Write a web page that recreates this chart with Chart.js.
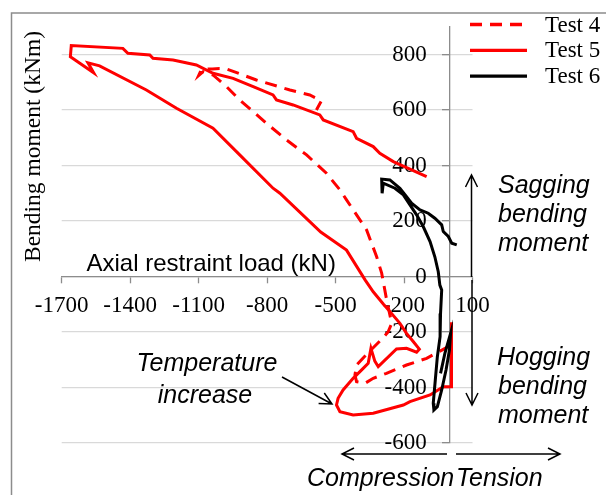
<!DOCTYPE html>
<html><head><meta charset="utf-8">
<script src="https://cdn.jsdelivr.net/npm/chart.js@4"></script>
<style>html,body{margin:0;padding:0;background:#fff}canvas{display:block}</style>
</head><body>
<canvas id="c" width="606" height="495"></canvas>
<script>
// ---- data ----
const xTickValues = [-1700, -1400, -1100, -800, -500, -200, 100];
const yTickValues = [-600, -400, -200, 0, 200, 400, 600, 800];
const seriesNames = ['Test 4', 'Test 5', 'Test 6'];

const test4X = [0, -20, -101, -189, -277, -335, -371, -408, -415, -408, -375, -345, -300, -270, -254, -276, -298, -320, -364, -452, -481, -540, -627, -715, -803, -920, -978, -1037, -1080, -1100, -1088, -1040, -1008, -978, -847, -700, -613, -562, -584];
const test4Y = [-247, -259, -295, -319, -349, -367, -385, -379, -355, -319, -290, -265, -228, -200, -169, -85, 12, 71, 168, 276, 312, 372, 438, 492, 552, 636, 684, 726, 738, 724, 746, 748, 749, 748, 708, 672, 654, 633, 600];

const test5X = [8, 8, -28, -86, -174, -203, -335, -423, -481, -496, -489, -467, -423, -379, -357, -345, -328, -313, -233, -189, -145, -133, -159, -189, -218, -255, -290, -335, -370, -452, -565, -744, -774, -920, -1037, -1197, -1329, -1534, -1585, -1560, -1662, -1658, -1432, -1410, -1314, -1300, -1212, -1110, -1037, -949, -861, -774, -759, -686, -569, -554, -423, -408, -335, -306, -247, -101];
const test5Y = [-165, -397, -397, -427, -451, -463, -493, -499, -487, -463, -439, -409, -367, -331, -313, -259, -305, -325, -261, -259, -273, -262, -235, -205, -169, -133, -100, -55, -13, 95, 160, 300, 318, 438, 534, 606, 672, 759, 770, 734, 792, 832, 822, 804, 798, 786, 780, 762, 732, 714, 684, 654, 636, 618, 582, 564, 522, 498, 468, 444, 414, 360];

const test6X = [31, 9, -6, -28, -35, -65, -94, -130, -167, -189, -218, -262, -298, -296, -291, -240, -203, -174, -145, -116, -86, -65, -50, -43, -35, -40, -42, -54, -63, -72, -69, -54, -35, -16, -1, 4, -21, -40];
const test6Y = [114, 120, 144, 162, 186, 210, 228, 240, 264, 288, 318, 348, 351, 300, 336, 318, 294, 258, 222, 180, 126, 71, 17, -31, -49, -133, -217, -289, -373, -457, -481, -469, -409, -337, -265, -205, -277, -349];

function pts(xs, ys) { return xs.map((x, i) => ({ x: x, y: ys[i] })); }

const SERIF = '"Liberation Serif", "Times New Roman", serif';
const SANS = '"Liberation Sans", Arial, sans-serif';

function arrow(ctx, x1, y1, x2, y2) {
  const ang = Math.atan2(y2 - y1, x2 - x1);
  const L = 12, W = 6;
  ctx.beginPath();
  ctx.moveTo(x1, y1); ctx.lineTo(x2, y2);
  const bx = x2 - L * Math.cos(ang), by = y2 - L * Math.sin(ang);
  const px = -Math.sin(ang) * W, py = Math.cos(ang) * W;
  ctx.moveTo(bx + px, by + py); ctx.lineTo(x2, y2); ctx.lineTo(bx - px, by - py);
  ctx.stroke();
}

const decor = {
  id: 'decor',
  beforeDraw(chart) {
    const ctx = chart.ctx;
    ctx.save();
    ctx.strokeStyle = '#8c8c8c';
    ctx.lineWidth = 1.5;
    ctx.strokeRect(11.5, 13, 700, 600);
    ctx.restore();
  },
  afterDraw(chart) {
    const ctx = chart.ctx;
    ctx.save();
    ctx.fillStyle = '#000';
    // axis titles
    ctx.font = '24px ' + SANS;
    ctx.textAlign = 'left';
    ctx.textBaseline = 'alphabetic';
    ctx.fillText('Axial restraint load (kN)', 86.5, 270.5);
    ctx.save();
    ctx.translate(40, 146.5);
    ctx.rotate(-Math.PI / 2);
    ctx.font = '23.5px ' + SERIF;
    ctx.textAlign = 'center';
    ctx.fillText('Bending moment (kNm)', 0, 0);
    ctx.restore();

    // annotations
    ctx.font = 'italic 25px ' + SANS;
    ctx.textAlign = 'left';
    ctx.fillText('Sagging', 498, 193);
    ctx.fillText('bending', 498, 222);
    ctx.fillText('moment', 498, 251);
    ctx.fillText('Hogging', 497, 365);
    ctx.fillText('bending', 498, 394);
    ctx.fillText('moment', 498, 423);
    ctx.textAlign = 'center';
    ctx.fillText('Temperature', 207, 371);
    ctx.fillText('increase', 205, 403);
    ctx.textAlign = 'left';
    ctx.fillText('Compression', 307, 486);
    ctx.fillText('Tension', 456, 486);

    ctx.strokeStyle = '#000';
    ctx.lineWidth = 1.5;
    arrow(ctx, 471.5, 277, 471.5, 175);
    arrow(ctx, 472, 280, 472, 405);
    arrow(ctx, 282, 377, 332, 404);
    arrow(ctx, 447, 454, 342, 454);
    arrow(ctx, 456, 454, 560, 454);

    // legend
    chart.data.datasets.forEach((ds, i) => {
      const y = 24.5 + 25.8 * i;
      ctx.strokeStyle = ds.borderColor;
      ctx.lineWidth = 3.3;
      ctx.setLineDash(ds.borderDash || []);
      ctx.beginPath();
      ctx.moveTo(470, y); ctx.lineTo(527, y);
      ctx.stroke();
      ctx.setLineDash([]);
      ctx.fillStyle = '#000';
      ctx.font = '23px ' + SERIF;
      ctx.textAlign = 'left';
      ctx.textBaseline = 'middle';
      ctx.fillText(ds.label, 545, y + 1);
    });
    ctx.restore();
  }
};

const lineDs = (label, xs, ys, color, dash, order) => ({
  label: label,
  data: pts(xs, ys),
  showLine: true,
  borderColor: color,
  backgroundColor: color,
  borderWidth: 3,
  borderDash: dash,
  pointRadius: 0,
  pointHoverRadius: 0,
  fill: false,
  tension: 0,
  order: order
});

new Chart(document.getElementById('c'), {
  type: 'scatter',
  data: {
    datasets: [
      lineDs(seriesNames[0], test4X, test4Y, '#ff0000', [12, 8], 3),
      lineDs(seriesNames[1], test5X, test5Y, '#ff0000', [], 2),
      lineDs(seriesNames[2], test6X, test6Y, '#000000', [], 1)
    ]
  },
  options: {
    responsive: false,
    animation: false,
    events: [],
    layout: { padding: { left: 61.7, right: 133.5, top: 26.7, bottom: 52 } },
    plugins: { legend: { display: false }, tooltip: { enabled: false } },
    scales: {
      x: {
        type: 'linear',
        min: -1700, max: 100,
        position: { y: 0 },
        afterBuildTicks: (s) => { s.ticks = xTickValues.map(v => ({ value: v })); },
        ticks: { font: { family: SERIF, size: 23 }, color: '#000', padding: 9.5, autoSkip: false, maxRotation: 0, minRotation: 0,
                 callback: (v) => String(v) },
        grid: { drawOnChartArea: false, drawTicks: true, tickLength: 6, tickColor: '#8c8c8c', tickWidth: 1.3 },
        border: { display: true, color: '#8c8c8c', width: 1.3 }
      },
      y: {
        type: 'linear',
        min: -600, max: 900,
        position: { x: 0 },
        afterBuildTicks: (s) => { s.ticks = yTickValues.map(v => ({ value: v })); },
        // the centred axis puts its labels against the axis line; trailing spaces give Excel's gap
        ticks: { font: { family: SERIF, size: 23 }, color: '#000', padding: 0, autoSkip: false,
                 callback: (v) => String(v) + '    ' },
        grid: { color: '#d9d9d9', lineWidth: 1.3, drawTicks: true, tickLength: 7, tickColor: '#8c8c8c', tickWidth: 1.3 },
        border: { display: true, color: '#8c8c8c', width: 1.3 }
      }
    }
  },
  plugins: [decor]
});
</script>
</body></html>
